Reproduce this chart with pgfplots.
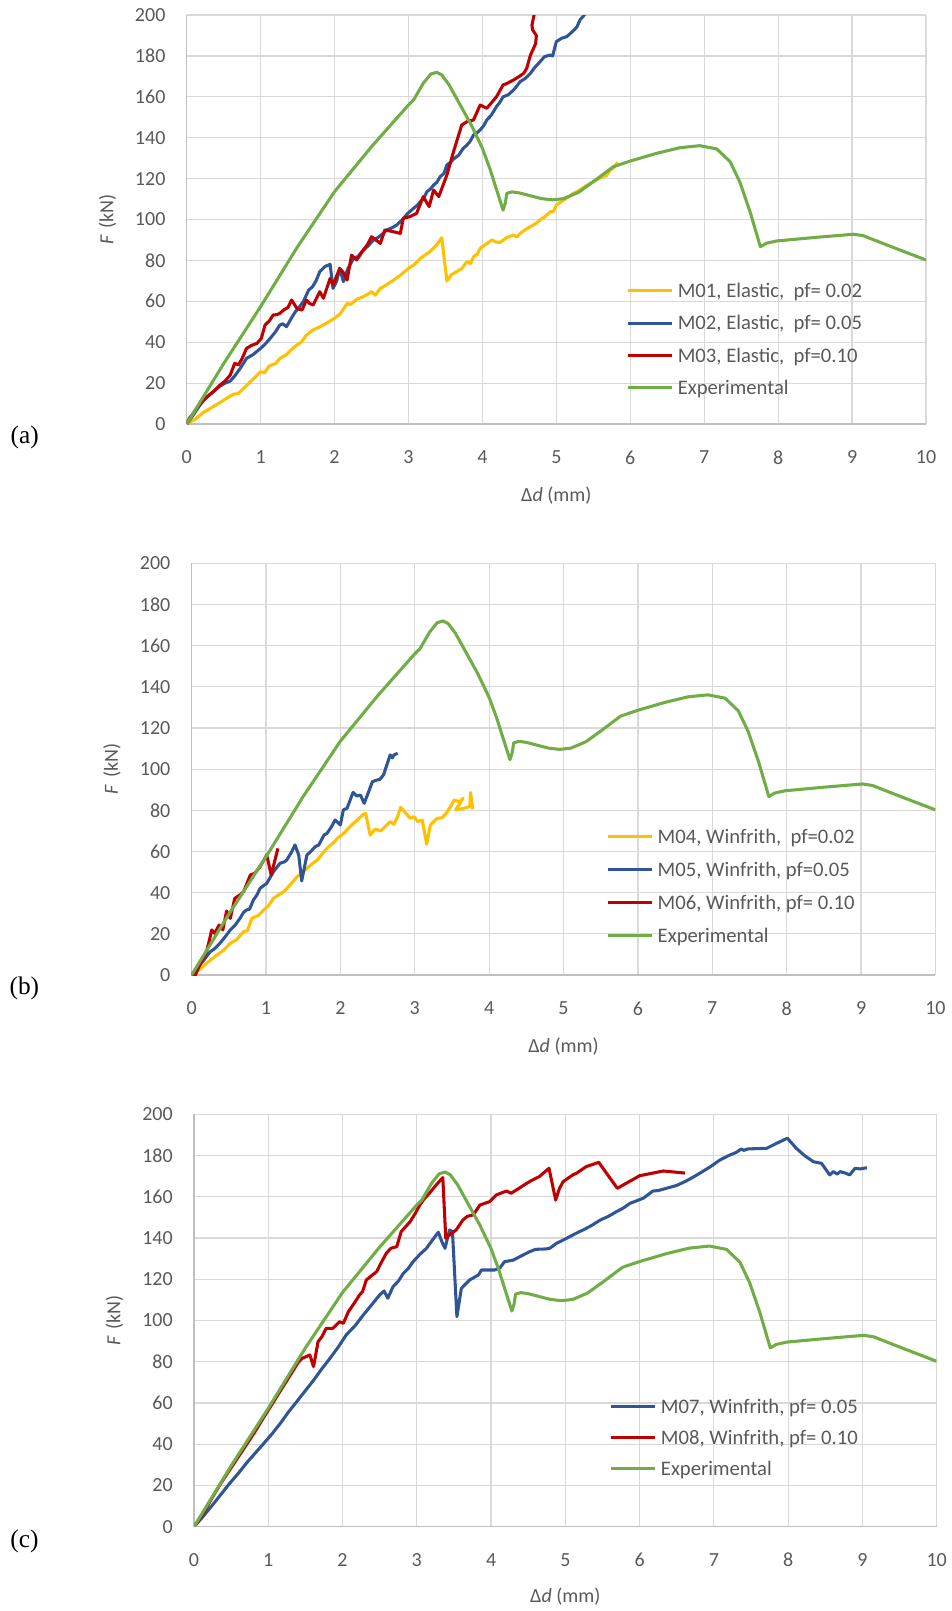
\documentclass[border=0pt]{standalone}
\usepackage{fontspec}
\setmainfont{Carlito}
\newfontfamily\panelfont{Liberation Serif}
\usepackage{pgfplots}
\pgfplotsset{compat=1.18}
\usepackage{pgfplotstable}

\definecolor{cyel}{HTML}{FFC000}
\definecolor{cblu}{HTML}{2F5597}
\definecolor{cred}{HTML}{C00000}
\definecolor{cgrn}{HTML}{70AD47}
\definecolor{ctxt}{HTML}{595959}
\definecolor{cgrid}{HTML}{D9D9D9}
\definecolor{cbox}{HTML}{BFBFBF}

\newcommand{\tickfont}{\fontsize{15}{18}\selectfont}
\newcommand{\legfont}{\fontsize{15.5}{18}\selectfont}

% Experimental curve (same in all panels)
\pgfplotstableread{
d F
0 0
0.5 29.5
1.0 57.4
1.5 86.7
2.0 113.6
2.5 135.6
3.0 156
3.07 158.5
3.2 166.6
3.3 171.1
3.38 172
3.45 170.7
3.55 165.8
3.7 156
3.85 146.2
4.0 134.8
4.1 125
4.2 113.6
4.28 104.6
4.31 108
4.33 112.8
4.4 113.5
4.5 113
4.65 111.6
4.8 110.2
4.95 109.6
5.1 110.2
5.3 113.3
5.5 118.5
5.77 125.8
6.0 128.6
6.36 132.4
6.67 135.1
6.94 136.1
7.17 134.5
7.35 128.3
7.48 118.5
7.62 103.8
7.76 86.7
7.84 88.4
7.98 89.5
8.52 91.3
9.02 92.8
9.15 92.1
9.51 87
10.0 80.2
}\expdata

% M01
\pgfplotstableread{
d F
0 0
0.12 2.5
0.22 5.5
0.36 8.5
0.45 10.5
0.55 12.8
0.63 14.5
0.7 15
0.8 18.5
0.9 22
1.0 25.6
1.05 25
1.12 28.5
1.2 29.5
1.26 32
1.35 34
1.42 36.5
1.49 38.6
1.55 40
1.62 43.5
1.71 46
1.8 47.5
1.9 49.5
2.0 51.7
2.08 54
2.17 59
2.22 58.5
2.3 61
2.39 62.3
2.45 63.5
2.5 64.7
2.55 63
2.62 66.3
2.7 68
2.8 70.4
2.9 73
3.0 76.1
3.08 78
3.16 81
3.22 82.5
3.29 84.3
3.38 87.5
3.45 91.1
3.52 69.9
3.58 73
3.65 74.5
3.72 76
3.79 79.4
3.84 78.5
3.88 81.8
3.93 83
3.97 85.9
4.05 88
4.13 90
4.18 89
4.24 88.8
4.32 91
4.42 92.4
4.47 91.5
4.51 93.2
4.58 95
4.65 96.5
4.72 98
4.78 99.8
4.85 101.5
4.92 103.8
4.96 103.8
5.0 107.1
5.1 109.5
5.23 112.8
5.3 114
5.38 116
5.46 117.7
5.55 119.5
5.63 120.9
5.68 121.5
5.73 124.2
5.78 125.5
5.83 128
}\mza

% M02
\pgfplotstableread{
d F
0 0
0.08 4
0.18 9.3
0.25 12.5
0.36 15.8
0.45 18.5
0.52 20
0.59 21
0.65 23.5
0.72 27
0.81 32.1
0.9 34
1.0 37
1.06 39
1.13 41.9
1.2 45
1.26 48.4
1.3 49
1.35 47.6
1.42 52
1.47 54.9
1.52 57
1.58 60
1.65 65.5
1.7 67
1.75 70
1.8 74.5
1.87 77
1.94 78.1
1.98 66.3
2.03 70
2.07 76.1
2.12 69.6
2.18 76
2.26 81
2.32 82
2.37 84.3
2.45 87
2.53 90
2.6 91.5
2.65 93
2.71 94.9
2.78 96
2.84 97.3
2.92 100
2.99 103
3.07 105.5
3.12 107
3.16 108.7
3.2 110
3.25 113.6
3.3 115
3.34 116.9
3.38 118
3.43 121
3.48 122.5
3.52 126.7
3.57 128
3.61 129.6
3.68 131.5
3.74 134.8
3.78 136
3.83 138
3.88 141.3
3.93 142.5
3.97 143.8
4.02 146
4.06 148.7
4.12 151
4.19 155.2
4.23 157
4.28 160
4.35 161
4.42 163.3
4.46 165
4.51 167.4
4.58 169
4.65 171.5
4.7 174
4.78 177.2
4.84 179.6
4.91 180.4
4.95 180
5.0 187
5.07 188.6
5.14 189.4
5.19 191
5.25 193
5.28 194.3
5.32 197.6
5.39 200.5
5.42 203
}\mzb

% M03
\pgfplotstableread{
d F
0 0
0.04 3
0.09 5.2
0.15 8.5
0.23 11.7
0.3 14
0.38 16.5
0.45 19
0.52 21
0.59 24
0.65 29.7
0.7 28.9
0.75 32
0.81 37
0.88 38.5
0.95 39.4
1.01 41.9
1.06 48.4
1.12 50.5
1.17 53.3
1.22 53.5
1.26 54.1
1.31 55.7
1.37 57
1.42 60.6
1.49 56.6
1.56 55.7
1.62 60.6
1.66 59
1.71 58.2
1.8 64.7
1.85 61.5
1.94 71.2
1.98 68
2.07 76.1
2.12 74
2.17 70.4
2.23 82.6
2.3 80.2
2.39 85.1
2.45 88
2.5 91.6
2.56 90
2.62 88.3
2.68 94.9
2.8 94
2.89 93.2
2.93 100.6
3.02 101.4
3.11 103
3.2 111.2
3.28 106.3
3.34 114.4
3.41 111.2
3.52 121.8
3.61 133.2
3.72 146.2
3.79 147.8
3.88 148.7
3.97 156
4.06 154.4
4.19 160
4.28 165.8
4.33 166.5
4.42 168.2
4.5 170
4.56 171.5
4.6 174
4.65 180.4
4.72 186
4.73 190
4.68 192.7
4.67 195
4.71 202
}\mzc

% M04
\pgfplotstableread{
d F
0 0
0.1 2.5
0.2 5.7
0.34 9.7
0.43 12
0.52 15.4
0.6 17
0.7 21.1
0.75 21.5
0.81 27.5
0.9 29
0.97 31.6
1.03 33.5
1.1 37.2
1.17 39
1.24 40.5
1.33 44
1.42 47.8
1.48 49.5
1.55 51.8
1.62 54
1.69 55.9
1.76 59
1.84 62.3
1.9 64
1.96 66.4
2.05 69
2.13 72.1
2.22 75
2.31 78.1
2.34 78.5
2.4 68
2.47 70.9
2.54 70
2.6 72
2.67 74.5
2.72 73.2
2.77 77
2.81 81.5
2.87 79
2.94 76.1
2.99 76.9
3.04 74.5
3.1 75.3
3.16 63.5
3.21 72.9
3.3 76.1
3.37 76.4
3.44 79.4
3.53 85
3.6 84.2
3.65 85.8
3.55 80.2
3.66 81
3.74 81.8
3.75 88.7
3.78 80.6
}\mzd

% M05
\pgfplotstableread{
d F
0 0
0.11 4.9
0.18 8
0.25 11.3
0.3 12.5
0.38 15.4
0.45 18.5
0.52 21.9
0.58 24
0.65 27.5
0.7 30.5
0.74 31.6
0.78 32
0.83 36.4
0.88 39
0.92 42.1
0.97 43.5
1.01 44.5
1.05 47
1.1 50.2
1.15 52.5
1.19 54.3
1.25 55
1.28 55.9
1.34 59.5
1.39 63.2
1.44 58.3
1.48 45.7
1.55 58.3
1.6 59.9
1.66 62.3
1.71 63.2
1.78 68
1.82 68.8
1.88 72
1.93 75.3
2.0 72.9
2.04 80.2
2.09 81
2.17 88.7
2.22 87
2.27 87.4
2.32 83.4
2.38 89
2.43 93.9
2.49 94.7
2.53 95
2.58 97.2
2.67 106.9
2.7 105.5
2.72 106.9
2.77 107.7
}\mze

% M06
\pgfplotstableread{
d F
0 0
0.05 0
0.11 4.9
0.16 8
0.2 11.3
0.24 17
0.27 21.9
0.31 20.2
0.37 24.3
0.42 21.9
0.47 31.1
0.52 27.5
0.58 37.2
0.65 38.9
0.7 40.5
0.75 45
0.79 48.6
0.85 49.4
0.92 52.6
1.01 58.3
1.07 48.6
1.11 54.3
1.16 61.5
}\mzf

% M07
\pgfplotstableread{
d F
0 0
0.1 4
0.26 11
0.37 16
0.48 21
0.6 26
0.71 31
0.82 35.5
0.93 40
1.05 45
1.16 50
1.27 55.5
1.38 60.5
1.5 66
1.61 71
1.72 76.5
1.83 81.6
1.94 87
2.05 93
2.17 97.5
2.28 102.7
2.39 107.5
2.5 112.4
2.56 114.3
2.61 110.8
2.68 116.4
2.75 119
2.82 122.9
2.88 125
2.95 128.5
3.04 132
3.13 135
3.21 139
3.29 142.8
3.34 138
3.38 135
3.44 143.9
3.48 143.1
3.54 101.9
3.6 115.6
3.71 119.6
3.83 122.1
3.87 124.5
4.05 124.5
4.12 125.5
4.18 128.5
4.3 129.3
4.39 131
4.52 133.4
4.6 134.5
4.74 134.7
4.79 135
4.88 137.4
5.02 139.9
5.06 140.7
5.19 143.1
5.24 143.9
5.35 146
5.47 148.7
5.58 150.5
5.69 152.8
5.78 154.5
5.87 156.8
6.05 159.3
6.18 162.8
6.25 163
6.36 164.1
6.5 165.5
6.63 167.7
6.72 169.5
6.81 171.4
6.95 174.5
7.08 177.8
7.2 180
7.3 181.5
7.37 183.2
7.4 182.5
7.46 183.2
7.71 183.5
7.85 186
7.99 188.4
8.11 183.5
8.22 180
8.34 177
8.45 176.2
8.56 170.6
8.61 172.2
8.66 171
8.7 172.2
8.77 171.5
8.83 170.6
8.9 173.8
8.97 173.5
9.06 174.1
}\mzg

% M08
\pgfplotstableread{
d F
0 0
0.1 5
0.26 15
0.37 21.5
0.48 27.5
0.6 34
0.71 40
0.82 46
0.93 52.5
1.0 56.5
1.07 60.5
1.13 64
1.2 68
1.27 72
1.34 76
1.4 79.5
1.45 81.5
1.56 83.3
1.61 77.6
1.67 89.7
1.72 92
1.78 96.2
1.87 96.2
1.96 99.4
2.01 98.6
2.08 104.3
2.15 108
2.23 112.4
2.27 114
2.32 119.6
2.4 122
2.46 123.7
2.52 128
2.59 132.6
2.65 135
2.73 135.8
2.79 143.1
2.85 145.5
2.91 147.9
2.98 152
3.04 156
3.1 159
3.17 161.7
3.26 165.7
3.35 169.3
3.39 139.9
3.44 141.5
3.53 143.9
3.62 148.7
3.68 150.5
3.76 151.2
3.85 156
3.98 157.6
4.07 160.9
4.21 162.8
4.27 161.7
4.35 163.5
4.48 166.5
4.55 168
4.65 169.8
4.78 173.8
4.87 158.4
4.92 164
4.97 167.3
5.1 170.6
5.15 171.4
5.28 174.6
5.45 176.7
5.7 164.1
6.0 170.2
6.32 172.5
6.61 171.5
}\mzh

\pgfplotsset{
  panel/.style={
    scale only axis,
    anchor=south west,
    xmin=0, xmax=10, ymin=0, ymax=200,
    xtick={0,1,...,10}, ytick={0,20,...,200},
    grid=major,
    major grid style={cgrid, line width=0.9pt},
    axis x line*=bottom, axis y line*=left,
    axis line style={cbox, line width=1pt, -},
    major tick length=0pt,
    tick style={draw=none},
    /pgf/number format/assume math mode=true,
    tick label style={font=\tickfont, text=ctxt, inner sep=0pt},
    xticklabel style={anchor=center, yshift=-25pt},
    yticklabel style={anchor=east, xshift=-15.75pt},
    xlabel={Δ\textit{d} (mm)},
    ylabel={\textit{F}\hspace{0.35em}(kN)},
    every axis y label/.style={at={(axis description cs:-0.107,0.5)}, rotate=90, anchor=center, font=\tickfont, text=ctxt},
    every axis plot/.append style={line width=2.3pt, line join=round},
    legend cell align=left,
    legend image code/.code={\draw[line width=2.3pt,##1] (0pt,0pt) -- (33pt,0pt);},
    legend style={draw=none, fill=none, inner sep=0pt, outer sep=0pt,
      anchor=north west, column sep=3pt,
      nodes={inner sep=0pt, text height=10pt, text depth=0pt, text=ctxt, font=\legfont}},
  }
}

\begin{document}
\begin{tikzpicture}
\path[use as bounding box] (0pt,0pt) rectangle (713.25pt,-1208.25pt);

% (a)
\begin{axis}[panel, at={(140pt,-318pt)}, width=554.5pt, height=306.75pt,
  every axis x label/.style={at={(axis description cs:0.5,-0.176)}, anchor=center, font=\tickfont, text=ctxt},
  legend style={at={(0.5952,0.3416)}, row sep=14.15pt}]
\addplot[cyel] table {\mza}; \addlegendentry{M01, Elastic,\ \ pf= 0.02}
\addplot[cblu] table {\mzb}; \addlegendentry{M02, Elastic,\ \ pf= 0.05}
\addplot[cred] table {\mzc}; \addlegendentry{M03, Elastic,\ \ pf=0.10}
\addplot[cgrn] table {\expdata}; \addlegendentry{Experimental}
\end{axis}

% (b)
\begin{axis}[panel, at={(143.7pt,-731.25pt)}, width=557.9pt, height=308.8pt,
  every axis x label/.style={at={(axis description cs:0.5,-0.174)}, anchor=center, font=\tickfont, text=ctxt},
  legend style={at={(0.558,0.3522)}, row sep=14.75pt}]
\addplot[cyel] table {\mzd}; \addlegendentry{M04, Winfrith,\ \ pf=0.02}
\addplot[cblu] table {\mze}; \addlegendentry{M05, Winfrith, pf=0.05}
\addplot[cred] table {\mzf}; \addlegendentry{M06, Winfrith, pf= 0.10}
\addplot[cgrn] table {\expdata}; \addlegendentry{Experimental}
\end{axis}

% (c)
\begin{axis}[panel, at={(145.5pt,-1145pt)}, width=557pt, height=309.3pt,
  every axis x label/.style={at={(axis description cs:0.5,-0.170)}, anchor=center, font=\tickfont, text=ctxt},
  legend style={at={(0.560,0.3072)}, row sep=13.25pt}]
\addplot[cblu] table {\mzg}; \addlegendentry{M07, Winfrith, pf= 0.05}
\addplot[cred] table {\mzh}; \addlegendentry{M08, Winfrith, pf= 0.10}
\addplot[cgrn] table {\expdata}; \addlegendentry{Experimental}
\end{axis}

\node[font=\panelfont\fontsize{19}{22}\selectfont, text=black] at (18.5pt,-328.3pt) {(a)};
\node[font=\panelfont\fontsize{19}{22}\selectfont, text=black] at (18.3pt,-741.2pt) {(b)};
\node[font=\panelfont\fontsize{19}{22}\selectfont, text=black] at (18.3pt,-1156.3pt) {(c)};
\end{tikzpicture}
\end{document}
